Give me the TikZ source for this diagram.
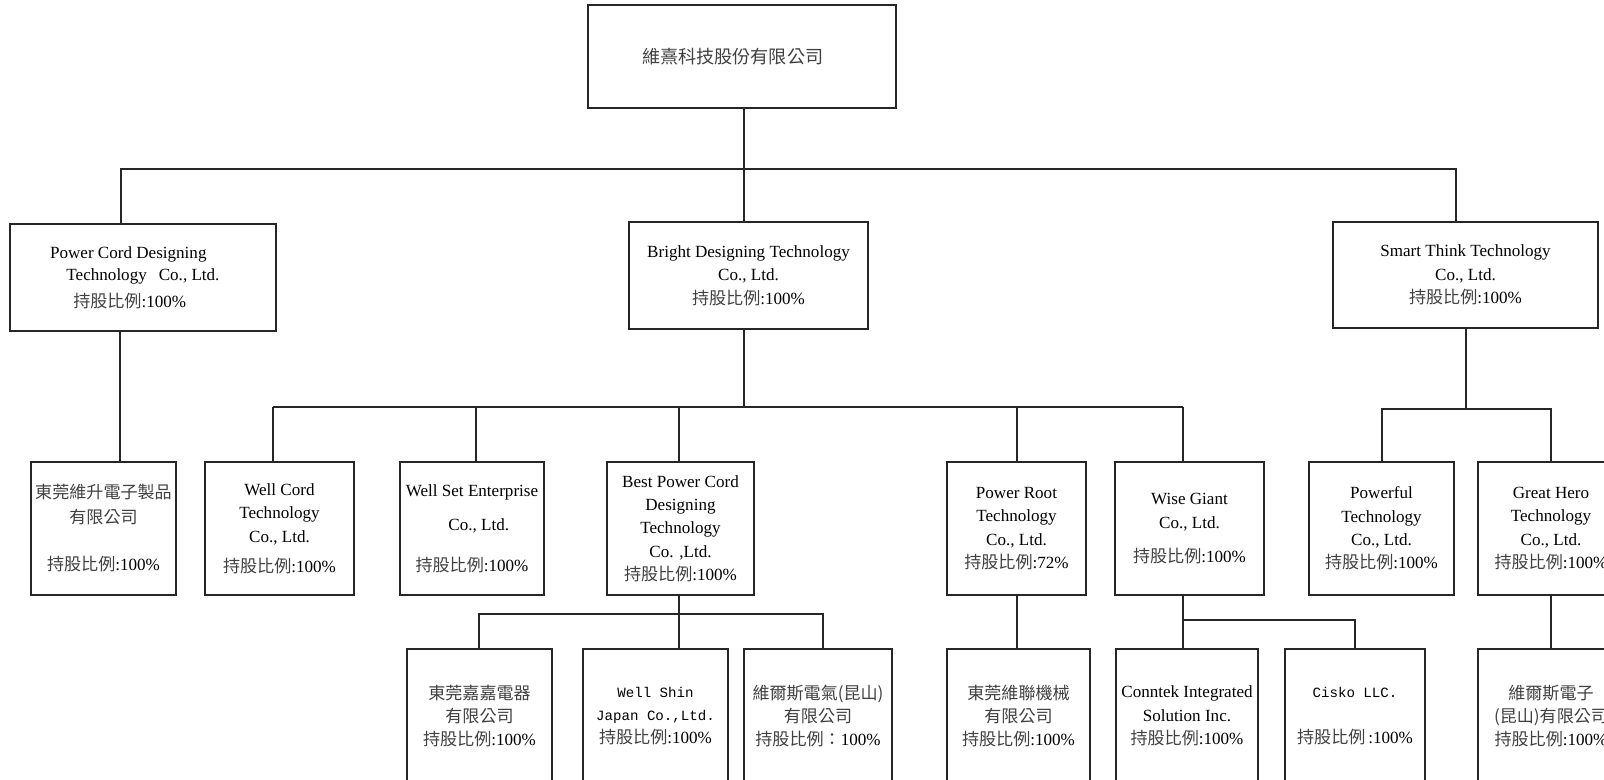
\documentclass[tikz,border=0pt]{standalone}
\usepackage{fontspec}
\setmainfont{Liberation Serif}
\setmonofont{Liberation Mono}
\newfontfamily\cjk{Noto Sans CJK TC}
\newcommand\zh[1]{{\cjk\color{black!75}#1}}
\newcommand\hold[1]{\zh{持股比例}:#1}
\newcommand\mono{\fontsize{10.6}{17.5}\selectfont\ttfamily}

\tikzset{
    org/.style 2 args={draw=black!85, line width=0.8pt, minimum width=#1*0.75pt, minimum height=#2*0.75pt,
        inner sep=0pt, align=center, font=\fontsize{12.8}{17.5}\selectfont},
    link/.style={draw=black!85, line width=0.8pt},
}

\begin{document}
\begin{tikzpicture}[x=0.75pt,y=-0.75pt]
    \useasboundingbox (0,0) rectangle (1604,779);
    \clip (0,0) rectangle (1604,779);

    % holding company and first level
    \node[org={308}{103}] (wx) at (742,56.5) {\raisebox{-5pt}{\fontsize{13.6}{17}\selectfont\zh{維熹科技股份有限公司}}\hspace*{14pt}};
    \node[org={266}{107}] (pcd) at (143,277.5) {Power Cord Designing\hspace*{22pt}\\[-1pt]Technology\hspace*{9pt}Co., Ltd.\hspace*{8pt}\\[3pt]\hold{100\%}\hspace*{20pt}};
    \node[org={239}{107}] (bdt) at (748.5,275.5) {Bright Designing Technology\\Co., Ltd.\\\hold{100\%}};
    \node[org={265}{106}] (stt) at (1465.5,275) {Smart Think Technology\\Co., Ltd.\\\hold{100\%}};

    % second level
    \node[org={145}{133}] (dgws) at (103.5,528.5) {\zh{東莞維升電子製品}\\[1pt]\zh{有限公司}\\[18pt]\hold{100\%}};
    \node[org={149}{133}] (wct) at (279.5,528.5) {Well Cord\\Technology\\Co., Ltd.\\[5pt]\hold{100\%}};
    \node[org={144}{133}] (wse) at (472,528.5) {Well Set Enterprise\\[8pt]\hspace*{0.8em}Co., Ltd.\\[13pt]\hold{100\%}};
    \node[org={147}{133}] (bpc) at (680.5,528.5) {Best Power Cord\\Designing\\Technology\\Co. ,Ltd.\\\hold{100\%}};
    \node[org={139}{133}] (prt) at (1016.5,528.5) {Power Root\\Technology\\Co., Ltd.\\\hold{72\%}};
    \node[org={149}{133}] (wgc) at (1189.5,528.5) {Wise Giant\\Co., Ltd.\\[8pt]\hold{100\%}};
    \node[org={145}{133}] (pft) at (1381.5,528.5) {Powerful\\Technology\\Co., Ltd.\\\hold{100\%}};
    \node[org={146}{133}] (ght) at (1551,528.5) {Great Hero\\Technology\\Co., Ltd.\\\hold{100\%}};

    % third level
    \node[org={145}{134}] (jj) at (479.5,716) {\zh{東莞嘉嘉電器}\\\zh{有限公司}\\\hold{100\%}};
    \node[org={145}{134}] (wsj) at (655.5,716) {{\mono Well Shin}\\{\mono Japan Co.,Ltd.}\\\hold{100\%}};
    \node[org={148}{134}] (wsq) at (818,716) {\zh{維爾斯電氣(昆山)}\\\zh{有限公司}\\\zh{持股比例：}100\%};
    \node[org={143}{134}] (wlm) at (1018.5,716) {\zh{東莞維聯機械}\\\zh{有限公司}\\\hold{100\%}};
    \node[org={142}{134}] (cis) at (1187,716) {Conntek Integrated\\Solution Inc.\\\hold{100\%}};
    \node[org={140}{134}] (ckl) at (1355,716) {{\mono Cisko LLC.}\\[17pt]\zh{持股比例}\,:100\%};
    \node[org={146}{134}] (wse2) at (1551,716) {\zh{維爾斯電子}\\\zh{(昆山)有限公司}\\\hold{100\%}};

    % connectors
    \coordinate (t0) at (121,169);
    \coordinate (t1) at (744,169);
    \coordinate (t2) at (1456,169);
    \draw[link] (t1 |- wx.south) -- (t1);
    \draw[link] (t0 |- pcd.north) -- (t0) -- (t2) -- (t2 |- stt.north);
    \draw[link] (t1) -- (t1 |- bdt.north);

    \coordinate (a0) at (120,331);
    \draw[link] (a0 |- pcd.south) -- (a0 |- dgws.north);

    \coordinate (b0) at (744,407);
    \draw[link] (b0 |- bdt.south) -- (b0);
    \draw[link] (273,407) coordinate (bl) -- (1183,407) coordinate (br);
    \foreach \n/\x in {wct/273,wse/476,bpc/679,prt/1017,wgc/1183} {
        \coordinate (d\n) at (\x,407);
        \draw[link] (d\n) -- (d\n |- \n.north);
    }

    \coordinate (s0) at (1466,409);
    \coordinate (sl) at (1382,409);
    \coordinate (sr) at (1551,409);
    \draw[link] (s0 |- stt.south) -- (s0);
    \draw[link] (sl |- pft.north) -- (sl) -- (sr) -- (sr |- ght.north);

    \coordinate (c0) at (679,614);
    \coordinate (cl) at (479,614);
    \coordinate (cr) at (823,614);
    \draw[link] (c0 |- bpc.south) -- (c0 |- wsj.north);
    \draw[link, line width=1.3pt] (cl |- jj.north) -- (cl) -- (cr) -- (cr |- wsq.north);

    \coordinate (e0) at (1017,600);
    \draw[link] (e0 |- prt.south) -- (e0 |- wlm.north);

    \coordinate (f0) at (1183,620);
    \coordinate (fr) at (1355,620);
    \draw[link] (f0 |- wgc.south) -- (f0 |- cis.north);
    \draw[link] (f0) -- (fr) -- (fr |- ckl.north);

    \coordinate (g0) at (1551,600);
    \draw[link] (g0 |- ght.south) -- (g0 |- wse2.north);
\end{tikzpicture}
\end{document}
